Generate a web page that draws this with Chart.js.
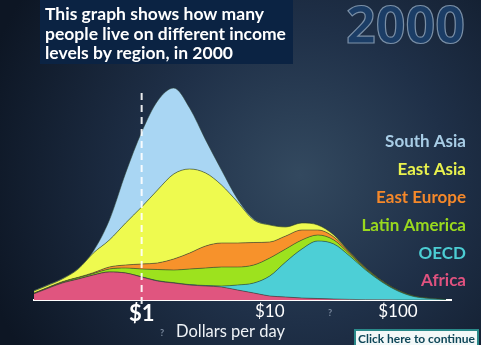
<!DOCTYPE html>
<html>
<head>
<meta charset="utf-8">
<script src="https://cdn.jsdelivr.net/npm/chart.js@4.4.0/dist/chart.umd.min.js"></script>
<style>
  html, body { margin: 0; padding: 0; background: #0f1a2a; }
  canvas { display: block; }
</style>
</head>
<body>
<canvas id="incomeChart" width="481" height="345"></canvas>
<script>
// income in dollars per day (log axis) and people per income level, by region
var dollars = [0.13, 0.18, 0.24, 0.32, 0.42, 0.56, 0.75, 1, 1.33, 1.78, 2.37, 3.16, 4.2, 5.6, 7.5, 10, 13.3, 17.8, 23.7, 31.6, 42, 56, 75, 100, 133, 178, 237]

var africa       = [4, 11, 17, 21, 25, 28, 27, 23, 19, 17, 15, 14, 13, 10, 7, 4, 3, 2, 1.5, 1, 0.6, 0.3, 0.2, 0.1, 0, 0, 0]
var oecd         = [0, 0, 0, 0, 0, 0, 0, 0.2, 0.3, 0.3, 0.4, 0.5, 1, 5, 10, 20, 35, 49, 57.5, 55, 43.4, 29.7, 17.8, 8.9, 3.5, 1.5, 0.5]
var latinAmerica = [0.3, 0.5, 0.8, 1.2, 1.5, 3, 5, 7.8, 11.2, 12.7, 15.6, 17.5, 19, 18, 18, 18, 13, 9, 6, 4, 2, 1, 0.6, 0.4, 0.2, 0.1, 0]
var eastEurope   = [0.3, 0.4, 0.5, 0.5, 0.8, 2, 3, 5, 6.5, 11, 16, 22, 24, 24, 22.5, 16, 13, 10, 5, 3, 1.5, 0.8, 0.5, 0.3, 0.2, 0.1, 0]
var eastAsia     = [1.9, 2.1, 2.7, 8.3, 19.7, 27, 42, 57, 73, 85, 84, 73, 58, 41, 22.5, 17, 9, 7, 5, 2, 0.5, 0.4, 0.3, 0.2, 0.1, 0.1, 0]
var southAsia    = [0.5, 0.5, 0.5, 0.5, 2, 20, 50, 75, 89, 86, 61, 33, 15, 3, 1, 0.3, 0.2, 0.1, 0, 0, 0, 0, 0, 0, 0, 0, 0]

var regionNames  = ['Africa', 'OECD', 'Latin America', 'East Europe', 'East Asia', 'South Asia']
var regionColors = ['#e0557f', '#4dcfd6', '#9de21e', '#f7922b', '#eefa4f', '#a9d6f3']
var labelColors  = ['#e0527f', '#4ccdd3', '#9ad91e', '#f5882a', '#e9f24d', '#a8cde6']
var tickDollars  = [1, 10, 100]

var FONT = 'Lato'

function makeSet(i, values) {
    return {
        label: regionNames[i],
        data: values.map(function(v, k) { return { x: dollars[k], y: v } }),
        backgroundColor: regionColors[i],
        borderColor: 'rgba(40,60,45,0.55)',
        borderWidth: 1,
        fill: i === 0 ? 'origin' : '-1',
        pointRadius: 0,
        cubicInterpolationMode: 'monotone'
    }
}

var decorations = {
    id: 'decorations',
    beforeDraw: function(chart) {
        var ctx = chart.ctx
        var w = chart.width, h = chart.height
        ctx.save()
        var g = ctx.createRadialGradient(300, 175, 0, 300, 175, 330)
        g.addColorStop(0, '#33495f')
        g.addColorStop(0.45, '#1f3048')
        g.addColorStop(1, '#0d1624')
        ctx.fillStyle = g
        ctx.fillRect(0, 0, w, h)

        // heading box
        ctx.fillStyle = '#0b2343'
        ctx.fillRect(40, 0, 253, 64)
        ctx.fillStyle = '#ffffff'
        ctx.font = 'bold 17.5px ' + FONT
        ctx.textAlign = 'left'
        ctx.textBaseline = 'alphabetic'
        ctx.fillText('This graph shows how many', 45, 20)
        ctx.fillText('people live on different income', 45, 40)
        ctx.fillText('levels by region, in 2000', 45, 59)

        // year
        ctx.font = 'bold 52px "Open Sans"'
        ctx.textAlign = 'right'
        ctx.fillStyle = '#1b3d66'
        ctx.fillText('2000', 465, 43)
        ctx.strokeStyle = '#7a8fa6'
        ctx.lineWidth = 1.2
        ctx.strokeText('2000', 465, 43)
        ctx.restore()
    },
    afterDatasetsDraw: function(chart) {
        var ctx = chart.ctx
        var x = chart.scales.x.getPixelForValue(1)
        ctx.save()
        ctx.strokeStyle = 'rgba(255,255,255,0.9)'
        ctx.lineWidth = 2
        ctx.setLineDash([7, 5])
        ctx.beginPath()
        ctx.moveTo(x, 93)
        ctx.lineTo(x, 304)
        ctx.stroke()
        ctx.restore()
    },
    afterDraw: function(chart) {
        var ctx = chart.ctx
        ctx.save()
        // legend, top to bottom
        ctx.font = 'bold 17px ' + FONT
        ctx.textAlign = 'right'
        ctx.textBaseline = 'middle'
        for (var i = 0; i < regionNames.length; i++) {
            var row = regionNames.length - 1 - i
            ctx.fillStyle = labelColors[i]
            ctx.fillText(chart.data.datasets[i].label, 466, 142 + row * 27.8)
        }

        // axis caption
        ctx.textAlign = 'left'
        ctx.fillStyle = '#eef2f6'
        ctx.font = '16.5px ' + FONT
        ctx.fillText('Dollars per day', 176, 332)
        ctx.fillStyle = '#7d8ca0'
        ctx.font = 'bold 9px ' + FONT
        ctx.fillText('?', 160, 333)
        ctx.fillText('?', 328, 313)

        // continue button
        ctx.fillStyle = '#f2f8f8'
        ctx.fillRect(355, 330, 123, 18)
        ctx.strokeStyle = '#2a8a8a'
        ctx.lineWidth = 2
        ctx.strokeRect(355, 330, 123, 18)
        ctx.fillStyle = '#0e4658'
        ctx.font = 'bold 12px ' + FONT
        ctx.textBaseline = 'alphabetic'
        ctx.fillText('Click here to continue', 358, 343)
        ctx.restore()
    }
}

var ctx = document.getElementById('incomeChart').getContext('2d')
var incomeChart = new Chart(ctx, {
    type: 'line',
    data: {
        datasets: [
            makeSet(0, africa),
            makeSet(1, oecd),
            makeSet(2, latinAmerica),
            makeSet(3, eastEurope),
            makeSet(4, eastAsia),
            makeSet(5, southAsia)
        ]
    },
    options: {
        responsive: false,
        animation: false,
        devicePixelRatio: 1,
        layout: { padding: { left: 34, right: 30, top: 80, bottom: 0 } },
        plugins: {
            legend: { display: false },
            tooltip: { enabled: false }
        },
        scales: {
            x: {
                type: 'logarithmic',
                min: Math.pow(10, -0.84),
                max: Math.pow(10, 2.414),
                grid: { display: false, drawTicks: false },
                border: { display: true, color: '#ffffff', width: 2 },
                afterBuildTicks: function(scale) {
                    scale.ticks = tickDollars.map(function(v) { return { value: v } })
                },
                afterFit: function(scale) { scale.height = 45 },
                ticks: {
                    color: '#ffffff',
                    padding: 1,
                    maxRotation: 0,
                    autoSkip: false,
                    callback: function(v) { return '$' + v },
                    font: function(c) {
                        if (c.tick && c.tick.value === 1) return { family: FONT, size: 22, weight: 'bold' }
                        return { family: FONT, size: 17 }
                    }
                }
            },
            y: { stacked: true, display: false, min: 0, max: 220 }
        }
    },
    plugins: [decorations]
})
</script>
</body>
</html>
